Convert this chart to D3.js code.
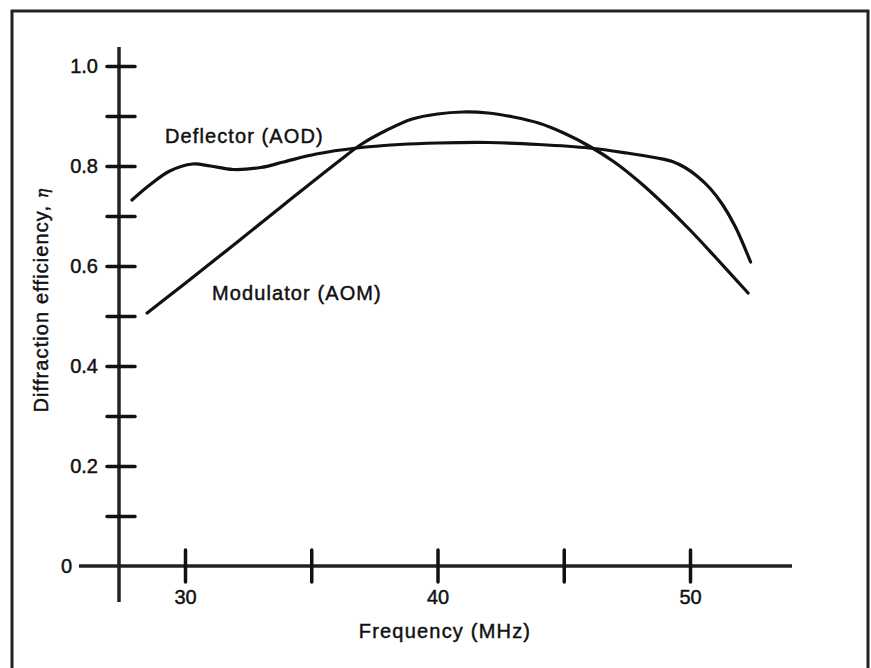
<!DOCTYPE html>
<html>
<head>
<meta charset="utf-8">
<script src="https://cdn.jsdelivr.net/npm/d3@7"></script>
<style>
  body { margin: 0; background: #fff; }
  text { font-family: "Liberation Sans", Arial, sans-serif; fill: #111; stroke: #111; stroke-width: 0.45px; }
</style>
</head>
<body>
<div id="chart"></div>
<script>
"use strict";

// data
var deflectorFreq = [27.9, 28.6, 29.4, 30.3, 31.0, 31.9, 33.0, 33.9, 35.2, 36.8, 38.5, 40.0, 42.0, 44.0, 46.0, 47.5, 48.7, 49.3, 49.8, 50.3, 50.8, 51.3, 51.8, 52.4];
var deflectorEta  = [0.732, 0.762, 0.790, 0.804, 0.800, 0.793, 0.797, 0.808, 0.824, 0.836, 0.843, 0.846, 0.847, 0.843, 0.836, 0.826, 0.816, 0.809, 0.797, 0.779, 0.755, 0.722, 0.678, 0.608];

var modulatorFreq = [28.5, 30.0, 32.0, 34.0, 36.0, 37.0, 38.0, 39.0, 40.0, 41.0, 42.0, 43.0, 44.0, 45.0, 46.0, 47.0, 48.0, 49.0, 50.0, 51.0, 52.3];
var modulatorEta  = [0.506, 0.565, 0.645, 0.726, 0.806, 0.844, 0.872, 0.894, 0.904, 0.908, 0.906, 0.898, 0.886, 0.866, 0.840, 0.808, 0.768, 0.722, 0.672, 0.618, 0.546];

var yTicks = [0.1, 0.2, 0.3, 0.4, 0.5, 0.6, 0.7, 0.8, 0.9, 1.0];
var yLabels = [0.2, 0.4, 0.6, 0.8, 1.0];
var xTicks = [30, 35, 40, 45, 50];
var xLabels = [30, 40, 50];

var width = 871, height = 668;

var svg = d3.select("#chart").append("svg")
    .attr("width", width)
    .attr("height", height);

// outer frame (bottom edge runs off the page)
svg.append("path")
    .attr("d", "M12,680 L12,11 L868,11 L868,680")
    .attr("fill", "none")
    .attr("stroke", "#222")
    .attr("stroke-width", 3);

var x = d3.scaleLinear().domain([30, 50]).range([185, 690]);
var y = d3.scaleLinear().domain([0, 1]).range([566, 66]);

// axis lines
svg.append("line")
    .attr("x1", 119).attr("x2", 119)
    .attr("y1", 47).attr("y2", 602)
    .attr("stroke", "#222").attr("stroke-width", 3.5);

svg.append("line")
    .attr("x1", 79).attr("x2", 792)
    .attr("y1", y(0)).attr("y2", y(0))
    .attr("stroke", "#222").attr("stroke-width", 3.5);

// y ticks cross the axis
var yAxis = svg.append("g")
    .attr("transform", "translate(119,0)")
    .call(d3.axisLeft(y).tickValues(yTicks).tickSize(12)
        .tickFormat(function (d) { return yLabels.indexOf(d) >= 0 ? d3.format(".1f")(d) : ""; }));
yAxis.select(".domain").remove();
yAxis.selectAll(".tick line")
    .attr("x1", 16)
    .attr("stroke", "#111")
    .attr("stroke-width", 3.5)
    .attr("stroke-linecap", "round");
yAxis.selectAll(".tick text")
    .attr("x", -21)
    .attr("font-size", 20)
    .attr("font-family", "Liberation Sans, Arial, sans-serif")
    .attr("fill", "#111");

svg.append("text")
    .attr("x", 72).attr("y", y(0))
    .attr("dy", "0.35em")
    .attr("text-anchor", "end")
    .attr("font-size", 20)
    .text("0");

// x ticks
var xAxis = svg.append("g")
    .attr("transform", "translate(0," + y(0) + ")")
    .call(d3.axisBottom(x).tickValues(xTicks).tickSize(16)
        .tickFormat(function (d) { return xLabels.indexOf(d) >= 0 ? d : ""; }));
xAxis.select(".domain").remove();
xAxis.selectAll(".tick line")
    .attr("y1", -16)
    .attr("stroke", "#111")
    .attr("stroke-width", 3.5)
    .attr("stroke-linecap", "round");
xAxis.selectAll(".tick text")
    .attr("y", 24)
    .attr("font-size", 20)
    .attr("font-family", "Liberation Sans, Arial, sans-serif")
    .attr("fill", "#111");

// axis titles
svg.append("text")
    .attr("x", 445).attr("y", 638)
    .attr("text-anchor", "middle")
    .attr("font-size", 20)
    .attr("letter-spacing", 1.2)
    .text("Frequency (MHz)");

svg.append("text")
    .attr("transform", "translate(48,300) rotate(-90)")
    .attr("text-anchor", "middle")
    .attr("font-size", 20)
    .attr("letter-spacing", 1.1)
    .html("Diffraction efficiency, <tspan font-style='italic' font-family='DejaVu Serif' font-size='16'>η</tspan>");

// curves
var line = d3.line()
    .x(function (d) { return x(d[0]); })
    .y(function (d) { return y(d[1]); })
    .curve(d3.curveCatmullRom.alpha(0.5));

var deflector = d3.zip(deflectorFreq, deflectorEta);
var modulator = d3.zip(modulatorFreq, modulatorEta);

svg.append("path")
    .datum(deflector)
    .attr("d", line)
    .attr("fill", "none")
    .attr("stroke", "#111")
    .attr("stroke-width", 3.2)
    .attr("stroke-linecap", "round");

svg.append("path")
    .datum(modulator)
    .attr("d", line)
    .attr("fill", "none")
    .attr("stroke", "#111")
    .attr("stroke-width", 3.2)
    .attr("stroke-linecap", "round");

svg.append("text")
    .attr("x", 165).attr("y", 143)
    .attr("font-size", 20)
    .attr("letter-spacing", 1.1)
    .text("Deflector (AOD)");

svg.append("text")
    .attr("x", 212).attr("y", 300)
    .attr("font-size", 20)
    .attr("letter-spacing", 1.1)
    .text("Modulator (AOM)");
</script>
</body>
</html>
